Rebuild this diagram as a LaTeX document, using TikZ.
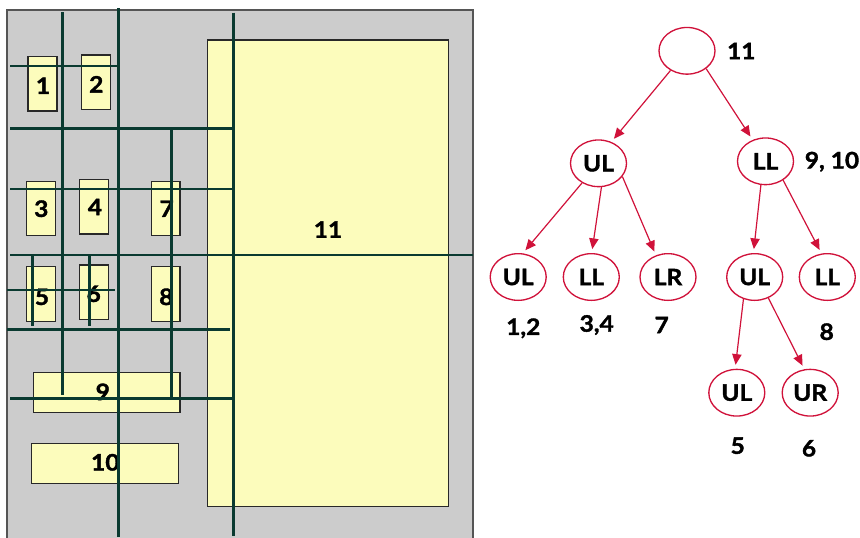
\documentclass[tikz,border=0pt]{standalone}
\usepackage{fontspec}
\setmainfont{Lato}[BoldFeatures={FakeBold=1.6,FakeStretch=1.08}]
\usetikzlibrary{shapes.geometric,arrows.meta}
\definecolor{panelgray}{RGB}{204,204,204}
\definecolor{paneledge}{RGB}{85,85,85}
\definecolor{cellyellow}{RGB}{252,252,188}
\definecolor{boxedge}{RGB}{40,40,40}
\definecolor{cutgreen}{RGB}{10,58,48}
\definecolor{treered}{RGB}{208,18,58}
\begin{document}
\begin{tikzpicture}[x=0.75pt,y=-0.75pt,
  lbl/.style={font=\bfseries\fontsize{17}{17}\selectfont,inner sep=0pt},
  cell/.style={draw=boxedge,line width=0.9pt,fill=cellyellow},
  cut/.style={draw=cutgreen,line width=2pt},
  tnode/.style={ellipse,draw=treered,line width=1pt,minimum width=42pt,
    minimum height=35pt,inner sep=0pt,font=\bfseries\fontsize{17}{17}\selectfont},
  link/.style={draw=treered,line width=0.9pt,
    -{Triangle[length=8pt,width=7pt]},shorten >=3pt}]
\useasboundingbox (0,0) rectangle (860,537);

% ---- region panel ----
\fill[panelgray] (7,10) rectangle (473,545);
\draw[paneledge,line width=1.4pt] (7,545) -- (7,10) -- (473,10) -- (473,545);

% rectangles
\draw[cell] (28,56.7) rectangle (57,111);
\draw[cell] (81.3,55) rectangle (110.3,109.3);
\draw[cell] (26.3,181.7) rectangle (55.3,235.7);
\draw[cell] (79.3,179.7) rectangle (108.7,234);
\draw[cell] (151.3,181.7) rectangle (180,235.7);
\draw[cell] (26.3,266.7) rectangle (55.3,321.3);
\draw[cell] (79.3,265) rectangle (108.7,319.7);
\draw[cell] (151.3,266.7) rectangle (180,321.3);
\draw[cell] (33.3,372.7) rectangle (180,412.7);
\draw[cell] (31.3,443.3) rectangle (178.3,483.3);
\draw[cell] (207.5,40) rectangle (448.7,506.5);

% rectangle numbers
\node[lbl] (r1) at (43,85.7) {1};
\node[lbl] (r2) at (96.3,84.3) {2};
\node[lbl] (r3) at (41.3,208.7) {3};
\node[lbl] (r4) at (95,207) {4};
\node[lbl] (r7) at (166.7,208.7) {7};
\node[lbl] (r5) at (42,296.8) {5};
\node[lbl] (r6) at (93.7,293.8) {6};
\node[lbl] (r8) at (166.3,296.8) {8};
\node[lbl] (r9) at (102.8,391.8) {9};
\node[lbl] (r10) at (105.3,462.3) {10};
\node[lbl] (r11) at (328,229.6) {11};

% splitting lines
\draw[cut] (62.7,12) -- (62.7,395);
\draw[cut] (118.3,8) -- (118.3,537);
\draw[cut] (171.7,129) -- (171.7,398);
\draw[cut] (233.3,12.7) -- (233.3,536);
\draw[cut] (32.3,255) -- (32.3,326);
\draw[cut] (89.3,255) -- (89.3,326);
\draw[cut] (10,66) -- (117.3,66);
\draw[cut] (10,128.3) -- (233.3,128.3);
\draw[cut] (10,189) -- (233.3,189);
\draw[cut] (10,255) -- (473,255);
\draw[cut] (7.3,290) -- (115,290);
\draw[cut] (7.3,329.3) -- (230,329.3);
\draw[cut] (10,398.7) -- (233.3,398.7);

% ---- tree ----
\node[tnode] (root) at (687,50.8) {};
\node[tnode] (ul1) at (598.5,163.3) {UL};
\node[tnode] (ll1) at (765.5,161.3) {LL};
\node[tnode] (ul2) at (518.2,277) {UL};
\node[tnode] (ll2) at (591.3,277) {LL};
\node[tnode] (lr2) at (668,277) {LR};
\node[tnode] (ul2r) at (754.7,277) {UL};
\node[tnode] (ll2r) at (827.3,277) {LL};
\node[tnode] (ul3) at (736.8,392.7) {UL};
\node[tnode] (ur3) at (810.2,392.7) {UR};

\draw[link] (root.230) -- (ul1.59);
\draw[link] (root.-43) -- (ll1.121);
\draw[link] (ul1.230) -- (ul2.79);
\draw[link] (ul1.-83) -- (ll2.89);
\draw[link] (ul1.-29) -- (lr2.119);
\draw[link] (ll1.-101) -- (ul2r.93);
\draw[link] (ll1.-47) -- (ll2r.104);
\draw[link] (ul2r.-117) -- (ul3.94);
\draw[link] (ul2r.-57) -- (ur3.104);

% tree labels
\node[lbl] (t11) at (741.3,51) {11};
\node[lbl] (t910) at (832,161.7) {9, 10};
\node[lbl] (t12) at (523.3,328.3) {1,2};
\node[lbl] (t34) at (596.7,325) {3,4};
\node[lbl] (t7) at (661.7,325) {7};
\node[lbl] (t8) at (826.7,331.7) {8};
\node[lbl] (t5) at (737.7,445.7) {5};
\node[lbl] (t6) at (809,448.3) {6};
\end{tikzpicture}
\end{document}
